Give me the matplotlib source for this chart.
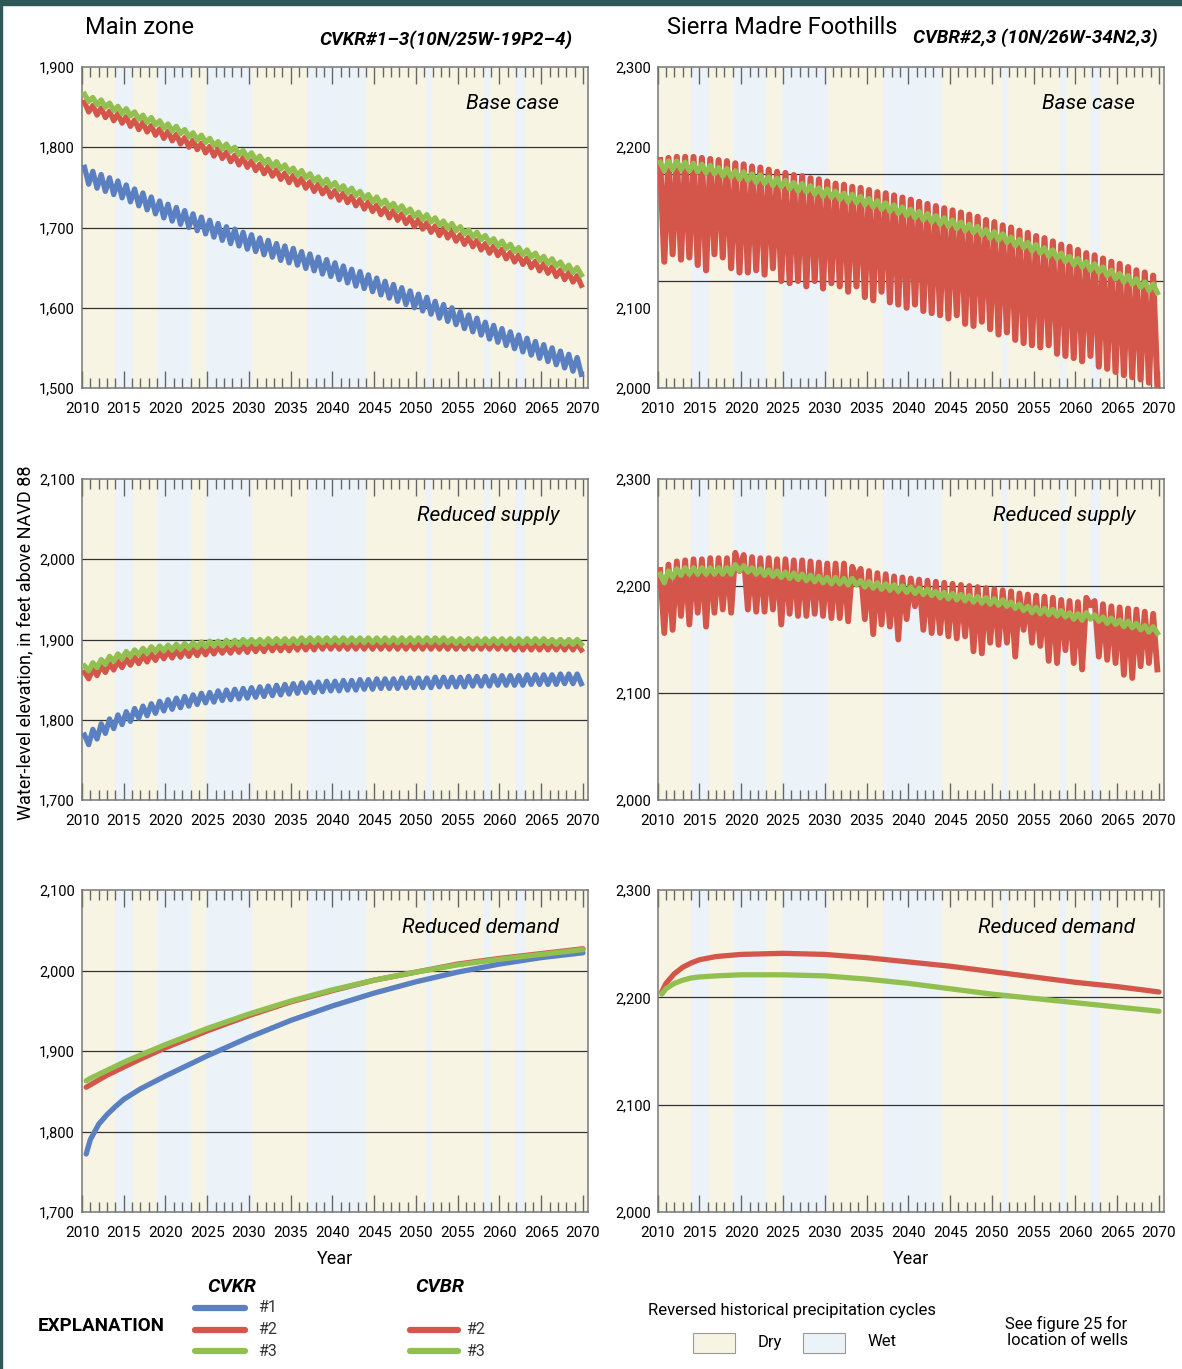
import numpy as np
import matplotlib
matplotlib.use("Agg")
import matplotlib.pyplot as plt
from matplotlib import font_manager
from matplotlib.patches import Rectangle
from matplotlib.lines import Line2D

# pick a narrow face if the system has one
names = {f.name for f in font_manager.fontManager.ttflist}
FONT = "Liberation Sans Narrow" if "Liberation Sans Narrow" in names else "Roboto"
plt.rcParams["font.family"] = [FONT, "DejaVu Sans"]

# ---------------- data ----------------
years = np.arange(2011, 2071)          # one seasonal cycle per year

# dry / wet periods (reversed historical precipitation cycles)
dry_periods = [(2010, 2014), (2016.1, 2019), (2023, 2024.9), (2030.4, 2037),
               (2044, 2051.2), (2051.9, 2058.2), (2058.9, 2061.8), (2063, 2070.6)]
wet_periods = [(2014, 2016.1), (2019, 2023), (2024.9, 2030.4), (2037, 2044),
               (2051.2, 2051.9), (2058.2, 2058.9), (2061.8, 2063)]

# Main zone, base case (annual high / low)
mz_base_1_hi = [1775, 1770, 1766, 1762, 1758, 1753, 1748, 1743, 1738, 1733,
                1729, 1725, 1721, 1717, 1713, 1709, 1705, 1701, 1698, 1694,
                1691, 1687, 1684, 1680, 1677, 1674, 1670, 1667, 1663, 1660,
                1656, 1652, 1648, 1645, 1641, 1637, 1633, 1629, 1625, 1621,
                1617, 1613, 1608, 1604, 1600, 1595, 1591, 1587, 1582, 1578,
                1574, 1570, 1566, 1562, 1558, 1554, 1550, 1546, 1542, 1538]
mz_base_1_lo = [1754, 1749, 1745, 1741, 1737, 1732, 1727, 1722, 1717, 1712,
                1708, 1704, 1700, 1696, 1692, 1688, 1684, 1680, 1677, 1673,
                1670, 1666, 1663, 1659, 1656, 1653, 1649, 1646, 1642, 1639,
                1635, 1631, 1627, 1624, 1620, 1616, 1612, 1608, 1604, 1600,
                1596, 1592, 1587, 1583, 1579, 1574, 1570, 1566, 1561, 1557,
                1553, 1549, 1545, 1541, 1537, 1533, 1529, 1525, 1521, 1517]
mz_base_2_hi = [1856, 1852, 1849, 1845, 1842, 1838, 1834, 1831, 1827, 1823,
                1820, 1816, 1812, 1809, 1805, 1801, 1798, 1794, 1790, 1787,
                1783, 1779, 1776, 1772, 1768, 1765, 1761, 1757, 1754, 1750,
                1746, 1743, 1739, 1735, 1732, 1728, 1724, 1721, 1717, 1713,
                1710, 1706, 1702, 1699, 1695, 1691, 1688, 1684, 1680, 1677,
                1673, 1669, 1666, 1662, 1658, 1655, 1651, 1647, 1644, 1640]
mz_base_2_lo = [1844, 1840, 1837, 1833, 1830, 1826, 1822, 1819, 1815, 1811,
                1808, 1804, 1800, 1797, 1793, 1789, 1786, 1782, 1778, 1775,
                1771, 1767, 1764, 1760, 1756, 1753, 1749, 1745, 1742, 1738,
                1734, 1731, 1727, 1723, 1720, 1716, 1712, 1709, 1705, 1701,
                1698, 1694, 1690, 1687, 1683, 1679, 1676, 1672, 1668, 1665,
                1661, 1657, 1654, 1650, 1646, 1643, 1639, 1635, 1632, 1628]
mz_base_3_hi = [1866, 1862, 1859, 1855, 1851, 1848, 1844, 1840, 1837, 1833,
                1829, 1826, 1822, 1818, 1815, 1811, 1807, 1804, 1800, 1796,
                1793, 1789, 1785, 1782, 1778, 1774, 1771, 1767, 1763, 1760,
                1756, 1752, 1749, 1745, 1741, 1738, 1734, 1730, 1727, 1723,
                1719, 1716, 1712, 1708, 1705, 1701, 1697, 1694, 1690, 1686,
                1683, 1679, 1675, 1672, 1668, 1664, 1661, 1657, 1653, 1650]
mz_base_3_lo = [1857, 1853, 1850, 1846, 1842, 1839, 1835, 1831, 1828, 1824,
                1820, 1817, 1813, 1809, 1806, 1802, 1798, 1795, 1791, 1787,
                1784, 1780, 1776, 1773, 1769, 1765, 1762, 1758, 1754, 1751,
                1747, 1743, 1740, 1736, 1732, 1729, 1725, 1721, 1718, 1714,
                1710, 1707, 1703, 1699, 1696, 1692, 1688, 1685, 1681, 1677,
                1674, 1670, 1666, 1663, 1659, 1655, 1652, 1648, 1644, 1641]

# Main zone, reduced supply
mz_supply_1_hi = [1781, 1788, 1795, 1801, 1806, 1810, 1814, 1817, 1820, 1823,
                  1825, 1827, 1829, 1831, 1833, 1834, 1836, 1837, 1838, 1839,
                  1840, 1841, 1842, 1843, 1844, 1845, 1846, 1846, 1847, 1848,
                  1848, 1849, 1849, 1850, 1850, 1851, 1851, 1851, 1852, 1852,
                  1852, 1852, 1853, 1853, 1853, 1853, 1854, 1854, 1854, 1855,
                  1855, 1855, 1855, 1856, 1856, 1856, 1856, 1857, 1857, 1857]
mz_supply_1_lo = [1769, 1776, 1783, 1789, 1794, 1798, 1802, 1805, 1808, 1811,
                  1813, 1815, 1817, 1819, 1821, 1822, 1824, 1825, 1826, 1827,
                  1828, 1829, 1830, 1831, 1832, 1833, 1834, 1834, 1835, 1836,
                  1836, 1837, 1837, 1838, 1838, 1839, 1839, 1839, 1840, 1840,
                  1840, 1840, 1841, 1841, 1841, 1841, 1842, 1842, 1842, 1843,
                  1843, 1843, 1843, 1844, 1844, 1844, 1844, 1845, 1845, 1845]
mz_supply_2_hi = [1859, 1863, 1867, 1870, 1873, 1876, 1878, 1880, 1882, 1884,
                  1885, 1886, 1887, 1888, 1889, 1890, 1891, 1891, 1892, 1892,
                  1893, 1893, 1894, 1894, 1894, 1895, 1895, 1895, 1896, 1896,
                  1896, 1896, 1896, 1896, 1896, 1896, 1896, 1896, 1896, 1896,
                  1896, 1896, 1896, 1896, 1896, 1896, 1896, 1896, 1896, 1896,
                  1896, 1895, 1895, 1895, 1895, 1895, 1895, 1895, 1895, 1895]
mz_supply_2_lo = [1851, 1855, 1859, 1862, 1865, 1868, 1870, 1872, 1874, 1876,
                  1877, 1878, 1879, 1880, 1881, 1882, 1883, 1883, 1884, 1884,
                  1885, 1885, 1886, 1886, 1886, 1887, 1887, 1887, 1888, 1888,
                  1888, 1888, 1888, 1888, 1888, 1888, 1888, 1888, 1888, 1888,
                  1888, 1888, 1888, 1888, 1888, 1888, 1888, 1888, 1888, 1888,
                  1888, 1887, 1887, 1887, 1887, 1887, 1887, 1887, 1887, 1887]
mz_supply_3_hi = [1867, 1871, 1875, 1879, 1882, 1885, 1887, 1889, 1891, 1892,
                  1893, 1894, 1895, 1896, 1897, 1898, 1898, 1899, 1899, 1900,
                  1900, 1900, 1901, 1901, 1901, 1901, 1902, 1902, 1902, 1902,
                  1902, 1902, 1902, 1902, 1902, 1902, 1902, 1902, 1902, 1902,
                  1902, 1902, 1902, 1902, 1901, 1901, 1901, 1901, 1901, 1901,
                  1901, 1901, 1901, 1901, 1901, 1901, 1900, 1900, 1900, 1900]
mz_supply_3_lo = [1861, 1865, 1869, 1873, 1876, 1879, 1881, 1883, 1885, 1886,
                  1887, 1888, 1889, 1890, 1891, 1892, 1892, 1893, 1893, 1894,
                  1894, 1894, 1895, 1895, 1895, 1895, 1896, 1896, 1896, 1896,
                  1896, 1896, 1896, 1896, 1896, 1896, 1896, 1896, 1896, 1896,
                  1896, 1896, 1896, 1896, 1895, 1895, 1895, 1895, 1895, 1895,
                  1895, 1895, 1895, 1895, 1895, 1895, 1894, 1894, 1894, 1894]

# Main zone, reduced demand (smooth)
demand_years = [2010.5, 2011, 2012, 2013, 2014, 2015, 2017, 2020, 2025, 2030,
                2035, 2040, 2045, 2050, 2055, 2060, 2065, 2070]
mz_demand_1 = [1772, 1790, 1809, 1821, 1831, 1840, 1853, 1869, 1894, 1917,
               1938, 1956, 1972, 1986, 1998, 2008, 2016, 2022]
mz_demand_2 = [1855, 1858, 1864, 1870, 1875, 1880, 1890, 1904, 1925, 1944,
               1961, 1975, 1988, 1998, 2008, 2015, 2021, 2027]
mz_demand_3 = [1863, 1866, 1871, 1876, 1881, 1886, 1895, 1908, 1928, 1946,
               1962, 1976, 1988, 1998, 2007, 2014, 2020, 2026]

# Sierra Madre Foothills, base case
sm_base_2_hi = [2213, 2215, 2216, 2216, 2216, 2215, 2214, 2213, 2212, 2210,
                2209, 2207, 2206, 2204, 2202, 2201, 2199, 2198, 2196, 2195,
                2193, 2191, 2190, 2188, 2187, 2185, 2183, 2182, 2180, 2178,
                2176, 2174, 2172, 2170, 2168, 2166, 2164, 2162, 2160, 2157,
                2155, 2152, 2150, 2147, 2145, 2142, 2140, 2137, 2134, 2132,
                2129, 2126, 2124, 2121, 2118, 2116, 2113, 2110, 2108, 2105]
sm_base_2_lo = [2118, 2125, 2120, 2122, 2115, 2110, 2125, 2122, 2112, 2108,
                2108, 2110, 2106, 2112, 2100, 2098, 2100, 2095, 2100, 2093,
                2098, 2095, 2090, 2095, 2085, 2082, 2090, 2080, 2078, 2075,
                2078, 2072, 2070, 2068, 2065, 2068, 2060, 2058, 2062, 2055,
                2050, 2052, 2045, 2042, 2040, 2038, 2040, 2032, 2030, 2028,
                2025, 2030, 2020, 2018, 2015, 2012, 2010, 2008, 2005, 2003]
sm_base_3_hi = [2211, 2212, 2212, 2211, 2210, 2209, 2208, 2206, 2205, 2203,
                2202, 2200, 2199, 2197, 2196, 2194, 2192, 2191, 2189, 2187,
                2186, 2184, 2182, 2181, 2179, 2177, 2175, 2173, 2171, 2169,
                2167, 2165, 2163, 2161, 2159, 2157, 2155, 2153, 2151, 2148,
                2146, 2144, 2141, 2139, 2136, 2134, 2131, 2129, 2126, 2123,
                2121, 2118, 2116, 2113, 2110, 2107, 2105, 2102, 2099, 2097]
sm_base_3_lo = [2203, 2204, 2204, 2203, 2202, 2201, 2200, 2198, 2197, 2195,
                2194, 2192, 2191, 2189, 2188, 2186, 2184, 2183, 2181, 2179,
                2178, 2176, 2174, 2173, 2171, 2169, 2167, 2165, 2163, 2161,
                2159, 2157, 2155, 2153, 2151, 2149, 2147, 2145, 2143, 2140,
                2138, 2136, 2133, 2131, 2128, 2126, 2123, 2121, 2118, 2115,
                2113, 2110, 2108, 2105, 2102, 2099, 2097, 2094, 2091, 2089]

# Sierra Madre Foothills, reduced supply
sm_supply_2_hi = [2215, 2220, 2223, 2224, 2225, 2225, 2226, 2226, 2226, 2231,
                  2229, 2227, 2226, 2226, 2225, 2225, 2224, 2224, 2223, 2222,
                  2221, 2221, 2221, 2218, 2216, 2214, 2212, 2211, 2209, 2208,
                  2207, 2206, 2205, 2204, 2203, 2202, 2201, 2200, 2199, 2198,
                  2197, 2196, 2195, 2193, 2192, 2191, 2190, 2189, 2187, 2186,
                  2185, 2189, 2186, 2183, 2181, 2180, 2179, 2178, 2176, 2174]
sm_supply_2_lo = [2156, 2159, 2172, 2164, 2175, 2162, 2175, 2178, 2175, 2214,
                  2178, 2176, 2176, 2178, 2164, 2174, 2172, 2172, 2174, 2172,
                  2170, 2170, 2167, 2206, 2169, 2155, 2164, 2162, 2150, 2169,
                  2181, 2159, 2156, 2156, 2153, 2151, 2153, 2139, 2137, 2147,
                  2145, 2147, 2134, 2159, 2147, 2144, 2130, 2128, 2140, 2128,
                  2122, 2182, 2134, 2131, 2128, 2117, 2114, 2125, 2128, 2122]
sm_supply_3_hi = [2211, 2214, 2216, 2217, 2217, 2217, 2217, 2217, 2217, 2220,
                  2219, 2217, 2216, 2215, 2214, 2213, 2212, 2211, 2210, 2209,
                  2208, 2208, 2207, 2207, 2205, 2204, 2203, 2202, 2201, 2200,
                  2199, 2198, 2197, 2195, 2194, 2193, 2192, 2191, 2190, 2189,
                  2188, 2187, 2185, 2183, 2181, 2180, 2179, 2178, 2177, 2175,
                  2174, 2175, 2173, 2171, 2170, 2168, 2167, 2165, 2163, 2162]
sm_supply_3_lo = [2203, 2208, 2210, 2211, 2211, 2211, 2211, 2211, 2211, 2214,
                  2213, 2211, 2210, 2209, 2208, 2207, 2206, 2205, 2204, 2203,
                  2202, 2202, 2201, 2201, 2199, 2198, 2197, 2196, 2195, 2194,
                  2193, 2192, 2191, 2189, 2188, 2187, 2186, 2185, 2184, 2183,
                  2182, 2181, 2179, 2177, 2175, 2174, 2173, 2172, 2171, 2169,
                  2168, 2169, 2167, 2165, 2164, 2162, 2161, 2159, 2157, 2156]

# Sierra Madre Foothills, reduced demand (smooth)
sm_demand_2 = [2205, 2213, 2222, 2228, 2232, 2235, 2238, 2240, 2241, 2240,
               2237, 2233, 2229, 2224, 2219, 2214, 2210, 2205]
sm_demand_3 = [2203, 2208, 2213, 2216, 2218, 2219, 2220, 2221, 2221, 2220,
               2217, 2213, 2208, 2203, 2199, 2195, 2191, 2187]

# axis setup per panel: limits, tick positions, tick labels, grid lines
left_ylims = [(1500, 1900), (1700, 2100), (1700, 2100)]
right_ylims = [(2000, 2300), (2000, 2300), (2000, 2300)]
left_grids = [[1600, 1700, 1800], [1800, 1900, 2000], [1800, 1900, 2000]]
right_grids = [[2100, 2200], [2100, 2200], [2100, 2200]]
left_ticks = [[1500, 1600, 1700, 1800, 1900], [1700, 1800, 1900, 2000, 2100],
              [1700, 1800, 1900, 2000, 2100]]
# the published top-right panel has its 2,100 / 2,200 labels offset from the grid lines
right_ticks = [[2000, 2075, 2225, 2300], [2000, 2100, 2200, 2300], [2000, 2100, 2200, 2300]]
right_ticklabels = [["2,000", "2,100", "2,200", "2,300"]] * 3
scenarios = ["Base case", "Reduced supply", "Reduced demand"]

BLUE = "#5b80c1"
RED = "#d4564b"
GREEN = "#92c050"
DRY = "#f7f4e3"
WET = "#ebf3f9"

W, H = 1182, 1369
fig = plt.figure(figsize=(W / 100, H / 100), dpi=100)
fig.patch.set_facecolor("white")
# dark frame strip of the source page
fig.add_artist(Rectangle((0, 1 - 5 / H), 1, 5 / H, transform=fig.transFigure, color="#2f5858", zorder=10))
fig.add_artist(Rectangle((0, 0), 2 / W, 1, transform=fig.transFigure, color="#2f5858", zorder=10))


def add_ax(x0, y0, x1, y1):
    return fig.add_axes([x0 / W, 1 - y1 / H, (x1 - x0) / W, (y1 - y0) / H])


def zigzag(hi, lo):
    t = np.column_stack([years - 0.7, years - 0.2]).ravel()
    v = np.column_stack([hi, lo]).ravel()
    return t, v


def style_axis(ax, ylim, ticks, labels, grids, label):
    ax.set_xlim(2010, 2070.6)
    ax.set_ylim(*ylim)
    for a, b in dry_periods:
        ax.axvspan(a, b, color=DRY, lw=0, zorder=0)
    for a, b in wet_periods:
        ax.axvspan(a, b, color=WET, lw=0, zorder=0)
    for g in grids:
        ax.axhline(g, color="#333333", lw=0.9, zorder=1)
    ax.set_xticks(range(2010, 2071, 5))
    ax.set_xticks(range(2010, 2071), minor=True)
    ax.tick_params(axis="x", which="both", direction="in", top=True, bottom=True,
                   color="#666666", width=1.0, labelsize=11, pad=10)
    ax.tick_params(axis="x", which="major", length=12)
    ax.tick_params(axis="x", which="minor", length=7)
    ax.set_yticks(ticks)
    ax.set_yticklabels(labels)
    ax.tick_params(axis="y", length=0, labelsize=10.5, pad=5)
    for s in ax.spines.values():
        s.set_color("#777777")
        s.set_linewidth(1.1)
    ax.text(0.943, 0.885, label, transform=ax.transAxes, ha="right", va="center",
            fontsize=15, style="italic", zorder=5)


def lbl(vals):
    return [f"{v:,}" for v in vals]


lw = 3.8
rows = [(67, 388), (479, 800), (890, 1212)]
axes_left = [add_ax(82, y0, 588, y1) for y0, y1 in rows]
axes_right = [add_ax(657.6, y0, 1164, y1) for y0, y1 in rows]

for i in range(3):
    style_axis(axes_left[i], left_ylims[i], left_ticks[i], lbl(left_ticks[i]), left_grids[i], scenarios[i])
    style_axis(axes_right[i], right_ylims[i], right_ticks[i], right_ticklabels[i], right_grids[i], scenarios[i])

# main zone
ax = axes_left[0]
for hi, lo, c in [(mz_base_1_hi, mz_base_1_lo, BLUE), (mz_base_2_hi, mz_base_2_lo, RED),
                  (mz_base_3_hi, mz_base_3_lo, GREEN)]:
    ax.plot(*zigzag(hi, lo), color=c, lw=lw, zorder=3)
ax = axes_left[1]
for hi, lo, c in [(mz_supply_1_hi, mz_supply_1_lo, BLUE), (mz_supply_2_hi, mz_supply_2_lo, RED),
                  (mz_supply_3_hi, mz_supply_3_lo, GREEN)]:
    ax.plot(*zigzag(hi, lo), color=c, lw=lw, zorder=3)
ax = axes_left[2]
for v, c in [(mz_demand_1, BLUE), (mz_demand_2, RED), (mz_demand_3, GREEN)]:
    ax.plot(demand_years, v, color=c, lw=lw, zorder=3, solid_capstyle="round")

# sierra madre foothills
ax = axes_right[0]
ax.plot(*zigzag(sm_base_2_hi, sm_base_2_lo), color=RED, lw=4.4, zorder=3)
ax.plot(*zigzag(sm_base_3_hi, sm_base_3_lo), color=GREEN, lw=lw, zorder=3)
ax = axes_right[1]
ax.plot(*zigzag(sm_supply_2_hi, sm_supply_2_lo), color=RED, lw=4.2, zorder=3)
ax.plot(*zigzag(sm_supply_3_hi, sm_supply_3_lo), color=GREEN, lw=lw, zorder=3)
ax = axes_right[2]
ax.plot(demand_years, sm_demand_2, color=RED, lw=lw, zorder=3, solid_capstyle="round")
ax.plot(demand_years, sm_demand_3, color=GREEN, lw=lw, zorder=3, solid_capstyle="round")

axes_left[2].set_xlabel("Year", fontsize=13, labelpad=7)
axes_right[2].set_xlabel("Year", fontsize=13, labelpad=7)

# headers
fig.text(85 / W, 1 - 27 / H, "Main zone", fontsize=17, va="center", ha="left")
fig.text(572 / W, 1 - 40 / H, "CVKR#1\u20133(10N/25W-19P2\u20134)", fontsize=13.5,
         weight="bold", style="italic", va="center", ha="right")
fig.text(667 / W, 1 - 27 / H, "Sierra Madre Foothills", fontsize=17, va="center", ha="left")
fig.text(1158 / W, 1 - 38 / H, "CVBR#2,3 (10N/26W-34N2,3)", fontsize=13.5,
         weight="bold", style="italic", va="center", ha="right")
fig.text(25 / W, 1 - 643 / H, "Water-level elevation, in feet above NAVD 88", fontsize=13,
         rotation=90, va="center", ha="center")

# explanation
fig.text(38 / W, 1 - 1326 / H, "EXPLANATION", fontsize=13.5, weight="bold", va="center")
fig.text(232 / W, 1 - 1287 / H, "CVKR", fontsize=14, weight="bold", style="italic", va="center", ha="center")
fig.text(440 / W, 1 - 1287 / H, "CVBR", fontsize=14, weight="bold", style="italic", va="center", ha="center")
for x0, x1, tx, entries in [(195, 245, 258, [(1308, BLUE, "#1"), (1330, RED, "#2"), (1351, GREEN, "#3")]),
                            (410, 458, 466, [(1330, RED, "#2"), (1351, GREEN, "#3")])]:
    for y, c, t in entries:
        fig.add_artist(Line2D([x0 / W, x1 / W], [1 - y / H, 1 - y / H], color=c, lw=4.5,
                              transform=fig.transFigure, solid_capstyle="round"))
        fig.text(tx / W, 1 - y / H, t, fontsize=11.5, va="center", ha="left", color="#333333")

fig.text(792 / W, 1 - 1311 / H, "Reversed historical precipitation cycles", fontsize=12,
         va="center", ha="center")
fig.add_artist(Rectangle((693 / W, 1 - 1353 / H), 42 / W, 20 / H, transform=fig.transFigure,
                         facecolor=DRY, edgecolor="#999999", lw=0.8))
fig.add_artist(Rectangle((803 / W, 1 - 1353 / H), 42 / W, 20 / H, transform=fig.transFigure,
                         facecolor=WET, edgecolor="#999999", lw=0.8))
fig.text(770 / W, 1 - 1342 / H, "Dry", fontsize=12, va="center", ha="center")
fig.text(882 / W, 1 - 1342 / H, "Wet", fontsize=12, va="center", ha="center")
fig.text(1066 / W, 1 - 1332 / H, "See figure 25 for\n location of wells", fontsize=12,
         va="center", ha="center", linespacing=1.15)

fig.savefig("out.png", dpi=100)
